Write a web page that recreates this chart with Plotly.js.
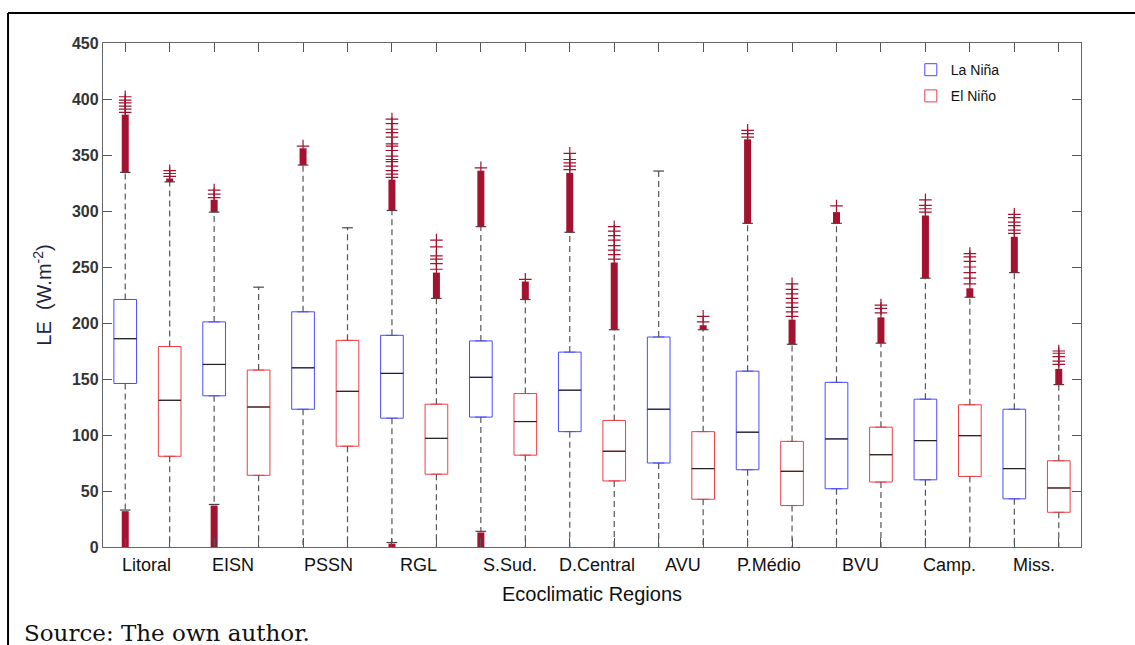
<!DOCTYPE html>
<html><head><meta charset="utf-8">
<script src="https://cdn.plot.ly/plotly-3.0.1.min.js"></script>
<style>html,body{margin:0;padding:0;background:#fff}#chart{width:1135px;height:645px}</style>
</head><body><div id="chart"></div>
<script>
// ---- data ----
const regions = ['Litoral','EISN','PSSN','RGL','S.Sud.','D.Central','AVU','P.Médio','BVU','Camp.','Miss.'];
const regionLabelPos = [1.47,3.42,5.58,7.59,9.66,11.61,13.55,15.48,17.53,19.55,21.45];
const ninaPos = [1,3,5,7,9,11,13,15,17,19,21];
const ninoPos = [2,4,6,8,10,12,14,16,18,20,22];

// La Niña
const ninaQ1     = [146,135,123,115,116,103,75,69,52,60,43];
const ninaMedian = [186,163,160,155,151.5,140,123,102.5,96.5,95,70];
const ninaQ3     = [221,201,210,189,184,174,187.5,157,147,132,123];
const ninaUpper  = [334.5,299,341,300.5,286,281,335.7,289,289,240,245];
const ninaLower  = [33,38,0,4,14,0,0,0,0,0,0];
const ninaOutDenseFrom = [334.5,299,341,300.5,286,281,null,289,289,240,245];
const ninaOutDenseTo   = [386,310,356,328,336,334,null,364,299,296,277];
const ninaOutSparse = [[388,391,393.6,396.5,399,402],[312,315,318.7],[358],
  [330,333,336,340,344,346,349,354,358,360,366,370,373,378,382],[338.5],
  [337,340,343,346,351.5],[],[366,369,372],[304.5],[299,302,305,310],[280,283,287,290,294,297]];
const ninaLowDenseTop = [32,37,null,3,13,null,null,null,null,null,null];

// El Niño
const ninoQ1     = [81,64,90,65,82,59,42.6,37,58,63,31];
const ninoMedian = [131,125,139,97,112,85.5,70,67.6,82.4,99.4,52.7];
const ninoQ3     = [179,158,184.5,127.5,137,113,103,94.3,107,127,77];
const ninoUpper  = [326,232,285,222,221,194,194,181,182,223,145];
const ninoLower  = [0,0,0,0,0,0,0,0,0,0,0];
const ninoOutDenseFrom = [326,null,null,222,221,194,194,181,182,223,145];
const ninoOutDenseTo   = [329,null,null,245,237,254,198,203,205,231,159];
const ninoOutSparse = [[331,333.5,336],[],[],[248,253,257,260,268,274],[239],
  [257,261,265,269,274,278,282,286],[201,206],[206,210,214,218,222,226,230,235],
  [209,213,216],[235,240,245,250,255,259,262],[163,166,170,173,175]];

// ---- styles ----
const BLUE = '#4b4bff', RED = '#ef3e48', OUT = '#a3122f';
const HALF = 0.255, CAP = 0.12;

function segs(pos, a, b){
  const x=[], y=[];
  pos.forEach((p,i)=>{ if(a[i]==null||b[i]==null) return;
    x.push(p, p, null); y.push(a[i], b[i], null); });
  return {x,y};
}
function hsegs(pos, v, half){
  const x=[], y=[];
  pos.forEach((p,i)=>{ if(v[i]==null) return; x.push(p-half,p+half,null); y.push(v[i],v[i],null); });
  return {x,y};
}
function concat(...objs){ return {x:[].concat(...objs.map(o=>o.x)), y:[].concat(...objs.map(o=>o.y))}; }
const nz = arr => arr.map(v=>v>0?v:null); // caps at 0 coincide with the axis

const traces = [];
traces.push({type:'box', name:'La Niña', legendgroup:'a', x:ninaPos, q1:ninaQ1, median:ninaMedian, q3:ninaQ3,
  lowerfence:ninaQ1, upperfence:ninaQ3, width:0.51, line:{color:BLUE,width:1}, fillcolor:'rgba(0,0,0,0)',
  boxpoints:false, hoverinfo:'skip'});
traces.push({type:'box', name:'El Niño', legendgroup:'b', x:ninoPos, q1:ninoQ1, median:ninoMedian, q3:ninoQ3,
  lowerfence:ninoQ1, upperfence:ninoQ3, width:0.51, line:{color:RED,width:1}, fillcolor:'rgba(0,0,0,0)',
  boxpoints:false, hoverinfo:'skip'});

// whiskers (dashed)
const wh = concat(segs(ninaPos,ninaQ3,ninaUpper), segs(ninaPos,ninaQ1,ninaLower),
                  segs(ninoPos,ninoQ3,ninoUpper), segs(ninoPos,ninoQ1,ninoLower));
traces.push({type:'scatter', mode:'lines', x:wh.x, y:wh.y, showlegend:false, hoverinfo:'skip',
  line:{color:'#555', width:1.2, dash:'6px,4px'}});
// caps
const cp = concat(hsegs(ninaPos,ninaUpper,CAP), hsegs(ninaPos,nz(ninaLower),CAP),
                  hsegs(ninoPos,ninoUpper,CAP), hsegs(ninoPos,nz(ninoLower),CAP));
traces.push({type:'scatter', mode:'lines', x:cp.x, y:cp.y, showlegend:false, hoverinfo:'skip',
  line:{color:'#444', width:1.2}});
// medians
const md = concat(hsegs(ninaPos,ninaMedian,HALF), hsegs(ninoPos,ninoMedian,HALF));
traces.push({type:'scatter', mode:'lines', x:md.x, y:md.y, showlegend:false, hoverinfo:'skip',
  line:{color:'#222', width:1.2}});
// dense outliers
const dn = concat(segs(ninaPos,ninaOutDenseFrom,ninaOutDenseTo), segs(ninoPos,ninoOutDenseFrom,ninoOutDenseTo),
                  segs(ninaPos, ninaLowDenseTop.map(v=>v==null?null:0), ninaLowDenseTop));
traces.push({type:'scatter', mode:'lines', x:dn.x, y:dn.y, showlegend:false, hoverinfo:'skip',
  line:{color:OUT, width:7}});
// sparse outliers
const sx=[], sy=[];
ninaOutSparse.forEach((arr,i)=>arr.forEach(v=>{sx.push(ninaPos[i]); sy.push(v);}));
ninoOutSparse.forEach((arr,i)=>arr.forEach(v=>{sx.push(ninoPos[i]); sy.push(v);}));
traces.push({type:'scatter', mode:'markers', x:sx, y:sy, showlegend:false, hoverinfo:'skip',
  marker:{symbol:'cross-thin', size:9, color:OUT, line:{color:OUT, width:1.2}}});

const annotations = regions.map((r,i)=>({text:r, x:regionLabelPos[i], xref:'x', y:-0.012, yref:'paper',
  xanchor:'center', yanchor:'top', showarrow:false, font:{family:'Liberation Sans, Arial', size:18, color:'#111'}}));
annotations.push({text:'Source: The own author.', x:-0.083, xref:'paper', y:-0.171, yref:'paper',
  xanchor:'left', yanchor:'middle', showarrow:false, font:{family:'DejaVu Serif, serif', size:23, color:'#111'}});

const layout = {
  width:1135, height:645,
  margin:{l:103, r:54, t:43, b:98},
  paper_bgcolor:'#fff', plot_bgcolor:'#fff',
  boxmode:'overlay',
  showlegend:true,
  legend:{x:0.826, y:0.978, xanchor:'left', yanchor:'top', bgcolor:'rgba(0,0,0,0)', tracegroupgap:5,
    font:{family:'Liberation Sans, Arial', size:14, color:'#111'}},
  xaxis:{range:[0.5,22.5], tickvals:ninaPos.concat(ninoPos), showticklabels:false, ticks:'inside', ticklen:9,
    tickcolor:'#555', showline:true, linecolor:'#666', linewidth:1.2, mirror:'ticks', showgrid:false, zeroline:false,
    title:{text:'Ecoclimatic Regions', standoff:39, font:{family:'Liberation Sans, Arial', size:20, color:'#111'}},
    automargin:false},
  yaxis:{range:[0,450], dtick:50, ticks:'inside', ticklen:9, tickcolor:'#555', showline:true, linecolor:'#666',
    linewidth:1.2, mirror:'ticks', showgrid:false, zeroline:false,
    tickfont:{family:'Liberation Sans, Arial', size:16, color:'#333', weight:'bold'},
    title:{text:'LE  (W.m<sup>-2</sup>)', standoff:14, font:{family:'Liberation Sans, Arial', size:20, color:'#1c2440'}},
    automargin:false},
  annotations:annotations,
  shapes:[
    {type:'line', xref:'paper', yref:'paper', x0:-0.0971, x1:1.06, y0:1.0595, y1:1.0595, line:{color:'#000', width:2}},
    {type:'line', xref:'paper', yref:'paper', x0:-0.0971, x1:-0.0971, y0:1.0595, y1:-0.2, line:{color:'#000', width:2}}
  ]
};
Plotly.newPlot('chart', traces, layout, {displayModeBar:false, staticPlot:true});
</script></body></html>
